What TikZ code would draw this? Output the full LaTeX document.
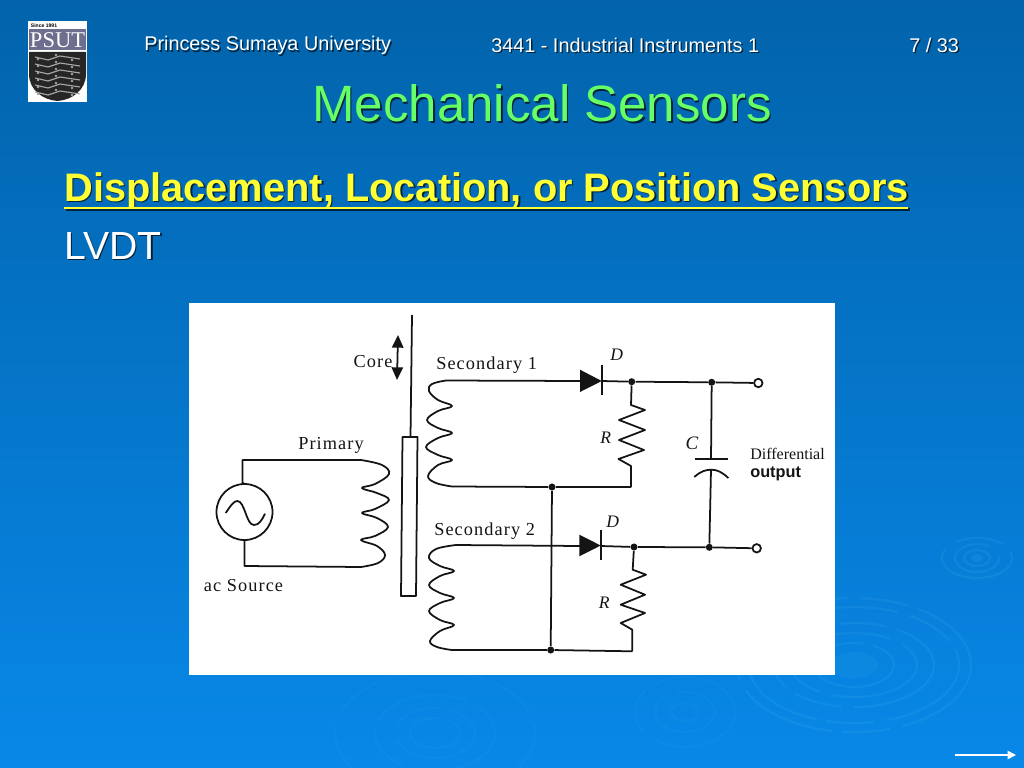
\documentclass[tikz,border=0pt]{standalone}
\usepackage{fontspec}
\setmainfont{Liberation Sans}
\newfontfamily\figfont[LetterSpace=6]{Liberation Serif}
\newfontfamily\capfont{Liberation Serif}
\usetikzlibrary{arrows.meta}
\definecolor{slidetop}{HTML}{0263AB}
\definecolor{slidebot}{HTML}{0888E8}
\definecolor{titlegreen}{HTML}{66FF66}
\definecolor{headyellow}{HTML}{FFFF33}
\definecolor{ink}{HTML}{141414}
\definecolor{logogrey}{HTML}{6E6E8E}
\tikzset{
	wire/.style={line width=1.25pt, color=ink, line join=round},
	junc/.style={circle, fill=ink, inner sep=0, minimum size=5pt},
	term/.style={circle, draw=ink, fill=white, line width=1.25pt, inner sep=0, minimum size=6pt},
	fig/.style={color=ink, inner sep=0, font=\figfont\fontsize{13}{15}\selectfont},
	sym/.style={color=ink, inner sep=0, font=\capfont\itshape\fontsize{12.5}{14}\selectfont},
	ring/.style={line width=1.6pt, color=cyan!60!white, opacity=0.1, dash pattern=on 70pt off 9pt on 34pt off 7pt},
	faintring/.style={ring, opacity=0.05},
}
\def\ripple[#1](#2,#3)#4{\foreach \rx/\ry in {#4} {\draw[#1] (#2,#3) ellipse [x radius=\rx, y radius=\ry];}}
\def\slidetext[#1](#2,#3)#4#5{
	\node[#1, color=black!65!slidetop, anchor=west, inner sep=0] (#4s) at (#2+1.4,#3+1.4) {#5};
	\node[#1, anchor=west, inner sep=0] (#4) at (#2,#3) {#5};
}

\begin{document}
\begin{tikzpicture}[x=0.025cm, y=-0.025cm]
	\useasboundingbox (0,0) rectangle (1024,768);
	%%%%% BACKGROUND %%%%%
	\shade[top color=slidetop, bottom color=slidebot] (0,0) rectangle (1024,768);
	\ripple[ring](977,558){35/20, 22/14, 13/8}
	\fill[cyan!60!white, opacity=0.1] (977,558) ellipse [x radius=6, y radius=4];
	\ripple[ring](854,665){117/67, 105/58, 80/42, 63/32, 40/22}
	\fill[cyan!60!white, opacity=0.07] (854,665) ellipse [x radius=24, y radius=13];
	\ripple[faintring](685,712){50/35, 30/20, 14/9}
	\ripple[faintring](435,733){60/38, 40/25, 25/15, 100/62}

	%%%%% HEADER %%%%%
	\fill[white] (28,21) rectangle (87,102);
	\fill[logogrey] (29,29.5) rectangle (86,50);
	\node[color=white, inner sep=0, font=\capfont\fontsize{16}{18}\selectfont] (psut) at (57.5,40) {PSUT};
	\node[color=black, inner sep=0, font=\bfseries\fontsize{3.6}{4}\selectfont] (since) at (44,25.5) {Since 1991};
	\fill[black!85] (29,52) -- (86,52) -- (86,74) .. controls (86,90) and (72,100) .. (57.5,101) .. controls (43,100) and (29,90) .. (29,74) -- cycle;
	\foreach \ly in {57,64,71,78,85,92} {
		\draw[black!35, line width=0.8pt] (35,\ly) -- (48,\ly+3) -- (60,\ly-1) -- (80,\ly+2);
		\fill[black!35] (38,\ly+2) circle (1.4) (56,\ly-2) circle (1.4) (72,\ly+3) circle (1.4);
	}

	\slidetext[color=white, font=\fontsize{14.1}{16}\selectfont](144,45.5){univ}{Princess Sumaya University}
	\slidetext[color=white, font=\fontsize{14.1}{16}\selectfont](491,45.5){course}{3441 - Industrial Instruments 1}
	\slidetext[color=white, font=\fontsize{14.1}{16}\selectfont](909,45.5){page}{7 / 33}
	\slidetext[color=titlegreen, font=\fontsize{36.3}{40}\selectfont](312,103.5){title}{Mechanical Sensors}
	\slidetext[color=headyellow, font=\bfseries\fontsize{28.3}{32}\selectfont](64,191){sub}{Displacement, Location, or Position Sensors}
	\draw[black!65!slidetop, line width=2pt] (65.5,209.5) -- (909.5,209.5);
	\draw[headyellow, line width=2pt] (64,208) -- (908,208);
	\slidetext[color=white, font=\fontsize{27.9}{32}\selectfont](64,246){lvdt}{LVDT}

	%%%%% FIGURE %%%%%
	\fill[white] (189,303) rectangle (835,675);

	% primary side
	\node[circle, draw=ink, line width=1.25pt, inner sep=0, minimum size=1.4cm] (src) at (244.5,512) {};
	\draw[wire] (225.7,513) .. controls (231,505) and (234,501) .. (237.3,501) .. controls (245,501) and (246,525) .. (254,525) .. controls (259,525) and (262,520) .. (265,513.7);
	\coordinate (pa) at (242.5,460);
	\coordinate (pb) at (244.5,566);
	\draw[wire] (src.north) -- (242.5,484) -- (pa) -- (361,460);
	\draw[wire] (src.south) -- (pb) -- (361,567);
	\draw[wire] plot[smooth, tension=0.65] coordinates {(361,460) (382,465) (389,474) (375,484) (362,488) (377,493) (389,500) (375,509) (362,513) (377,518) (388,527) (375,536) (361,540) (377,546) (385,555) (378,563) (361,567)};
	\node[fig] (primary) at (331,445.5) {Primary};
	\node[fig] (acsrc) at (243.5,586) {ac Source};

	% core
	\coordinate (rodtop) at (412,315);
	\coordinate (rodbot) at (410.5,437);
	\draw[wire] (rodtop) -- (rodbot);
	\draw[wire] (402.5,437) -- (417.5,437) -- (416,596) -- (401,596) -- cycle;
	\coordinate (cup) at (398,335);
	\coordinate (cdn) at (397,380);
	\draw[wire, {Triangle[width=8pt,length=9pt]}-{Triangle[width=8pt,length=9pt]}] (cup) -- (cdn);
	\node[fig] (core) at (373,361.5) {Core};

	% secondary windings
	\node[fig, anchor=west] (secone) at (436,365.5) {Secondary 1};
	\node[fig, anchor=west] (sectwo) at (434,531.5) {Secondary 2};
	\coordinate (sa) at (446,380.5);
	\coordinate (sb) at (452,486.5);
	\coordinate (ta) at (456,545);
	\coordinate (tb) at (452,650);
	\draw[wire] plot[smooth, tension=0.65] coordinates {(446,380.5) (432,384) (429,391) (438,400) (452,406) (438,411) (427,420) (438,428) (452,433) (438,438) (426,447) (438,455) (452,460) (438,465) (428,476) (436,483) (452,486.5)};
	\draw[wire] plot[smooth, tension=0.65] coordinates {(456,545) (436,549) (429,558) (440,566) (454,571) (440,576) (429,585) (440,593) (454,598) (440,603) (429,611) (440,620) (454,625) (440,631) (430,641) (437,647) (452,650)};

	% upper branch
	\node[junc] (ja) at (631.7,381.7) {};
	\node[junc] (jb) at (711.7,382.3) {};
	\node[junc] (jm) at (552,487) {};
	\node[term] (oa) at (758.3,383) {};
	\coordinate (ra) at (631,487);
	\draw[wire] (sa) -- (580,381) (601.7,381) -- (ja) -- (jb) -- (oa);
	\fill[ink] (580,369.7) -- (601.7,381) -- (580,392) -- cycle;
	\draw[wire] (601.7,364.7) -- (601.7,395);
	\draw[wire] (ja) -- (631,405) -- (645,410) -- (619,420) -- (645,430) -- (619,440) -- (644,450) -- (618.5,459) -- (631,466) -- (ra);
	\draw[wire] (sb) -- (jm) -- (ra);
	\node[sym] (done) at (616.7,354.7) {D};
	\node[sym] (rone) at (605.7,438) {R};

	% lower branch
	\node[junc] (jc) at (634,547) {};
	\node[junc] (jd) at (709.3,547.3) {};
	\node[junc] (jn) at (550.7,650) {};
	\node[term] (ob) at (756.7,548.3) {};
	\coordinate (rb) at (632.3,651.3);
	\draw[wire] (ta) -- (580,546) (600.7,546) -- (jc) -- (jd) -- (ob);
	\fill[ink] (579.3,534.7) -- (600.7,545.5) -- (579.3,556.3) -- cycle;
	\draw[wire] (600.7,529.7) -- (600.7,560.3);
	\draw[wire] (jc) -- (632.7,569.7) -- (646,574.7) -- (620.7,584.7) -- (645,594.7) -- (620.7,604.7) -- (645,613) -- (620.7,623) -- (632.3,629.7) -- (rb);
	\draw[wire] (tb) -- (jn) -- (rb);
	\draw[wire] (jm) -- (jn);
	\node[sym] (dtwo) at (612.7,521.3) {D};
	\node[sym] (rtwo) at (604.3,603) {R};

	% capacitor
	\coordinate (capa) at (711,459);
	\coordinate (capb) at (711,470);
	\draw[wire] (jb) -- (capa);
	\draw[wire] (695,459) -- (728,459);
	\draw[wire] (694.3,477) .. controls (701,471) and (706,469.7) .. (711.5,469.7) .. controls (717,469.7) and (722,472) .. (728.3,478);
	\draw[wire] (capb) -- (jd);
	\node[sym, font=\capfont\itshape\fontsize{13.5}{14}\selectfont] (cval) at (692,443) {C};
	\node[color=ink, inner sep=0, anchor=west, font=\capfont\fontsize{11.4}{13}\selectfont] (diff) at (750,454) {Differential};
	\node[color=ink, inner sep=0, anchor=west, font=\bfseries\fontsize{11.6}{13}\selectfont] (out) at (750,473.7) {output};

	% next slide arrow
	\coordinate (nxa) at (955,755);
	\coordinate (nxb) at (1016,755);
	\draw[white, line width=1.1pt, -{Triangle[width=6pt,length=6pt]}] (nxa) -- (nxb);
\end{tikzpicture}
\end{document}
